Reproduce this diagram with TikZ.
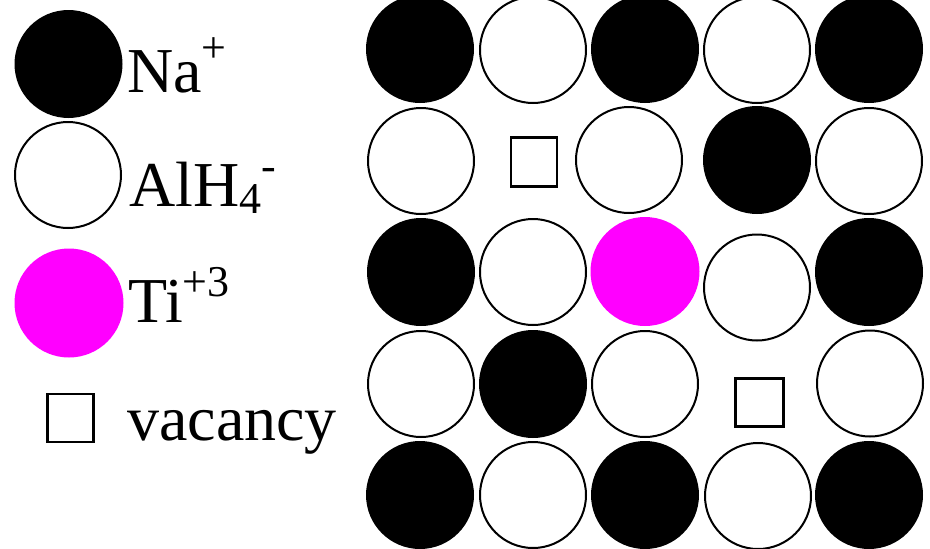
\documentclass[tikz,border=0pt]{standalone}
\usepackage{fontspec}
\setmainfont{Liberation Serif}
\newfontfamily\tnrfont{Liberation Serif}
\definecolor{tipink}{HTML}{FF00FF}
\newcommand{\bigtxt}{\tnrfont\fontsize{64}{70}\selectfont}
\newcommand{\suptxt}[2]{\raisebox{#1pt}{\tnrfont\fontsize{44}{48}\selectfont #2}}
\begin{document}
\begin{tikzpicture}[x=1pt,y=-1pt,
  na/.style={circle,fill=black,draw=none,minimum size=108pt,inner sep=0pt},
  alh/.style={circle,fill=white,draw=black,line width=2pt,minimum size=106pt,inner sep=0pt},
  ti/.style={circle,fill=tipink,draw=none,minimum size=109pt,inner sep=0pt},
  vac/.style={rectangle,draw=black,line width=2.2pt,minimum size=46pt,inner sep=0pt},
  lbl/.style={anchor=base west,inner sep=0pt,font=\bigtxt}]
\useasboundingbox[fill=white] (0,0) rectangle (930,549);
% legend
\node[na]  (lna)  at (68.5,64) {};
\node[alh] (lalh) at (68,175) {};
\node[ti]  (lti)  at (69,303) {};
\node[vac,minimum width=46pt,minimum height=48pt] (lvac) at (70.5,418) {};
\node[lbl] (tna)  at (127,92) {Na\suptxt{30}{+}};
\node[lbl] (talh) at (129,206) {AlH\raisebox{-7pt}{\tnrfont\fontsize{44}{48}\selectfont 4}\suptxt{26}{-}};
\node[lbl] (tti)  at (128,322) {Ti\suptxt{26}{+3}};
\node[lbl] (tvac) at (127,440) {vacancy};
% row 1
\node[na]  (g11) at (420,49) {};
\node[alh] (g12) at (533,50) {};
\node[na]  (g13) at (645,49) {};
\node[alh] (g14) at (757,50) {};
\node[na]  (g15) at (869,49) {};
% row 2
\node[alh] (g21) at (421,161) {};
\node[vac,minimum width=46pt,minimum height=49pt] (g22) at (534,162) {};
\node[alh] (g23) at (629,160) {};
\node[na]  (g24) at (757,160) {};
\node[alh] (g25) at (869,161) {};
% row 3
\node[na]  (g31) at (421,272) {};
\node[alh] (g32) at (533,272) {};
\node[ti]  (g33) at (645,271.5) {};
\node[alh] (g34) at (757,287.5) {};
\node[na]  (g35) at (869,272) {};
% row 4
\node[alh] (g41) at (421,384) {};
\node[na]  (g42) at (533,384) {};
\node[alh] (g43) at (645,384) {};
\node[vac,minimum width=48pt,minimum height=48pt] (g44) at (759.5,402.5) {};
\node[alh] (g45) at (870,383.5) {};
% row 5
\node[na]  (g51) at (420,495) {};
\node[alh] (g52) at (533,495) {};
\node[na]  (g53) at (645,495) {};
\node[alh] (g54) at (758,496) {};
\node[na]  (g55) at (869,495) {};
\end{tikzpicture}
\end{document}
